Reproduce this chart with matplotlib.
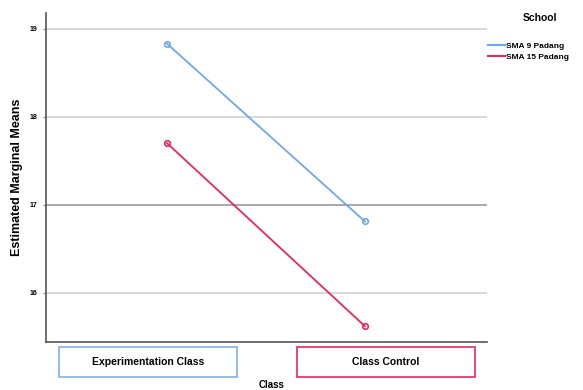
import matplotlib
matplotlib.use("Agg")
import matplotlib.pyplot as plt
from matplotlib.patches import Rectangle

plt.rcParams['font.family'] = ['Liberation Sans', 'DejaVu Sans']

# Estimated marginal means per class and school
classes = ["Experimentation Class", "Class Control"]
schools = ["SMA 9 Padang", "SMA 15 Padang"]
means_sma9 = [18.83, 16.81]
means_sma15 = [17.70, 15.62]
y_ticks = [16, 17, 18, 19]

colors = ['#6ea8ea', '#e6285a']
box_colors = ['#8fb4e6', '#e83a64']

fig = plt.figure(figsize=(5.83, 3.9), dpi=100)
ax = fig.add_axes([0.079, 0.123, 0.756, 0.844])

x = list(range(len(classes)))
for vals, name, c in zip([means_sma9, means_sma15], schools, colors):
    ax.plot(x, vals, color=c, lw=1.3, marker='o', ms=4, mfc='none',
            mec=c, mew=1.2, label=name)

ax.set_xlim(-0.611, 1.616)
ax.set_ylim(15.44, 19.18)
ax.set_yticks(y_ticks)
ax.set_yticklabels([str(t) for t in y_ticks], fontsize=5, fontweight='bold')
ax.tick_params(axis='y', length=2, width=0.8, color='#888888', pad=4)
ax.set_xticks([])

# horizontal reference lines
for t in y_ticks:
    ax.axhline(t, color='#9a9a9a' if t == 17 else '#d2d2d2', lw=1.2, zorder=0)

for s in ['top', 'right']:
    ax.spines[s].set_visible(False)
for s in ['left', 'bottom']:
    ax.spines[s].set_color('#555555')
    ax.spines[s].set_linewidth(1.2)

ax.set_ylabel("Estimated Marginal Means", fontsize=9, fontweight='bold', labelpad=5)

# category label boxes below the axis
W, H = 583, 390
box_x = [59, 297]
for name, bx, ec in zip(classes, box_x, box_colors):
    fig.add_artist(Rectangle((bx / W, 1 - 377 / H), 178 / W, 30 / H,
                             transform=fig.transFigure, fill=False,
                             edgecolor=ec, lw=1.3))
    fig.text((bx + 89) / W, 1 - 362 / H, name, ha='center', va='center',
             fontsize=7.5, fontweight='bold')

fig.text(272 / W, 1 - 385 / H, "Class", ha='center', va='center',
         fontsize=7, fontweight='bold')

# legend
fig.text(540 / W, 1 - 18 / H, "School", ha='center', va='center',
         fontsize=7.5, fontweight='bold')
leg = ax.legend(loc='upper left', bbox_to_anchor=(0.995, 0.92), frameon=False,
                prop={'size': 6, 'weight': 'bold'}, handlelength=2.0,
                handletextpad=0.2, labelspacing=0.3, borderaxespad=0)
for line in leg.get_lines():
    line.set_marker('')
    line.set_linewidth(1.5)

fig.savefig("out.png", dpi=100)
